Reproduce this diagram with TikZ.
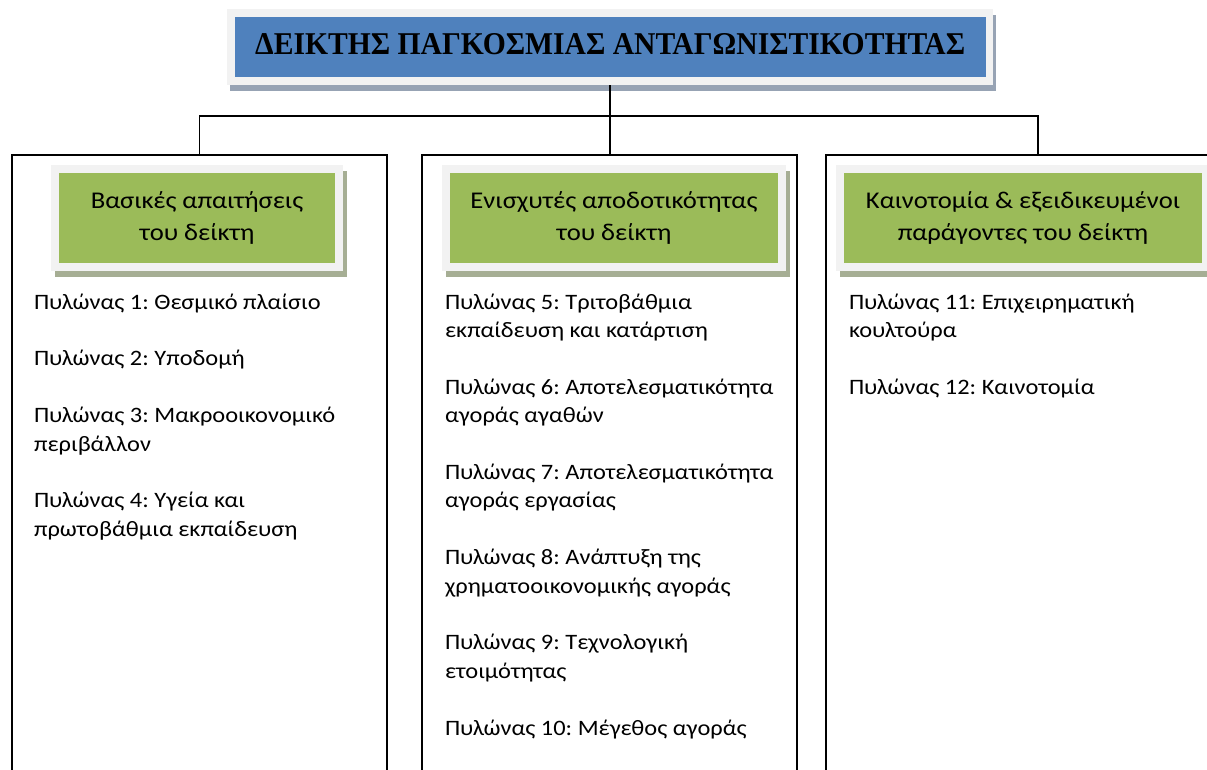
\documentclass[tikz,border=0pt]{standalone}
\usepackage{fontspec}
\usepackage{graphicx}
\setmainfont{Carlito}[FakeStretch=1.11]
\newfontfamily\titlefont{Liberation Serif}
\usetikzlibrary{shadows}
\definecolor{tblue}{HTML}{4F81BD}
\definecolor{ggreen}{HTML}{9BBB59}
\definecolor{framecol}{HTML}{F2F2F2}
\definecolor{gshadow}{HTML}{A6AE94}
\definecolor{tshadow}{HTML}{97A3B4}
\frenchspacing
\tikzset{
  conn/.style={draw=black, line width=1.6pt},
  colbox/.style={draw=black, line width=1.6pt, fill=white, anchor=north west, outer sep=0pt, inner sep=0pt, minimum height=700pt},
  tframe/.style={fill=framecol, inner sep=0pt, outer sep=0pt, drop shadow={shadow xshift=3pt, shadow yshift=-6pt, opacity=1, fill=tshadow}},
  tinner/.style={fill=tblue, inner sep=0pt, outer sep=0pt},
  gframe/.style={fill=framecol, inner sep=0pt, outer sep=0pt, minimum height=106pt, drop shadow={shadow xshift=4pt, shadow yshift=-6pt, opacity=1, fill=gshadow}},
  ginner/.style={fill=ggreen, inner sep=0pt, outer sep=0pt, minimum height=90pt, font=\fontsize{24}{32}\selectfont},
  pillar/.style={anchor=base west, inner sep=0pt, outer sep=0pt, font=\fontsize{22}{28.4}\selectfont},
}
\newcommand{\gl}[1]{\begin{tabular}[t]{@{}c@{}}#1\end{tabular}}
\newcommand{\pl}[1]{\begin{tabular}[t]{@{}l@{}}#1\end{tabular}}
\begin{document}
\begin{tikzpicture}[x=1pt, y=-1pt]
\useasboundingbox[fill=white] (0,0) rectangle (1207,769);
\clip (0,0) rectangle (1207,769);

% column boxes
\node[colbox, minimum width=375pt] (c1) at (12,155) {};
\node[colbox, minimum width=375pt] (c2) at (422,155) {};
\node[colbox, minimum width=424pt] (c3) at (826,155) {};

% title
\node[tframe, minimum width=766pt, minimum height=76pt] (tf) at (610,47) {};
\node[tinner, minimum width=751pt, minimum height=60pt] (tb) at (610.5,47) {};
\node[anchor=base west, inner sep=0pt] (tt) at (255,54) {\resizebox{710pt}{21pt}{\titlefont\bfseries ΔΕΙΚΤΗΣ ΠΑΓΚΟΣΜΙΑΣ ΑΝΤΑΓΩΝΙΣΤΙΚΟΤΗΤΑΣ}};

% connectors
\coordinate (bus) at (610,116);
\draw[conn] (tf.south) -- (tf.south |- c2.north);
\draw[conn] (c1.north) |- (bus) -| (c3.north);

% green headers
\node[gframe, minimum width=292pt] (g1f) at (197,218) {};
\node[ginner, minimum width=276pt] (g1) at (197,218) {\gl{Βασικές απαιτήσεις\\του δείκτη}};
\node[gframe, minimum width=344pt] (g2f) at (614,218) {};
\node[ginner, minimum width=328pt] (g2) at (614,218) {\gl{Ενισχυτές αποδοτικότητας\\του δείκτη}};
\node[gframe, minimum width=374pt] (g3f) at (1023,218) {};
\node[ginner, minimum width=358pt] (g3) at (1023,218) {\gl{Καινοτομία \& εξειδικευμένοι\\παράγοντες του δείκτη}};

% pillars column 1
\node[pillar] (p1) at (34,309) {\pl{Πυλώνας 1: Θεσμικό πλαίσιο}};
\node[pillar] (p2) at (34,365.8) {\pl{Πυλώνας 2: Υποδομή}};
\node[pillar] (p3) at (34,422.6) {\pl{Πυλώνας 3: Μακροοικονομικό\\περιβάλλον}};
\node[pillar] (p4) at (34,507.8) {\pl{Πυλώνας 4: Υγεία και\\πρωτοβάθμια εκπαίδευση}};

% pillars column 2
\node[pillar] (p5) at (445,309) {\pl{Πυλώνας 5: Τριτοβάθμια\\εκπαίδευση και κατάρτιση}};
\node[pillar] (p6) at (445,394.2) {\pl{Πυλώνας 6: Αποτελεσματικότητα\\αγοράς αγαθών}};
\node[pillar] (p7) at (445,479.4) {\pl{Πυλώνας 7: Αποτελεσματικότητα\\αγοράς εργασίας}};
\node[pillar] (p8) at (445,564.6) {\pl{Πυλώνας 8: Ανάπτυξη της\\χρηματοοικονομικής αγοράς}};
\node[pillar] (p9) at (445,649.8) {\pl{Πυλώνας 9: Τεχνολογική\\ετοιμότητας}};
\node[pillar] (p10) at (445,735) {\pl{Πυλώνας 10: Μέγεθος αγοράς}};

% pillars column 3
\node[pillar] (p11) at (849,309) {\pl{Πυλώνας 11: Επιχειρηματική\\κουλτούρα}};
\node[pillar] (p12) at (849,394.2) {\pl{Πυλώνας 12: Καινοτομία}};
\end{tikzpicture}
\end{document}
